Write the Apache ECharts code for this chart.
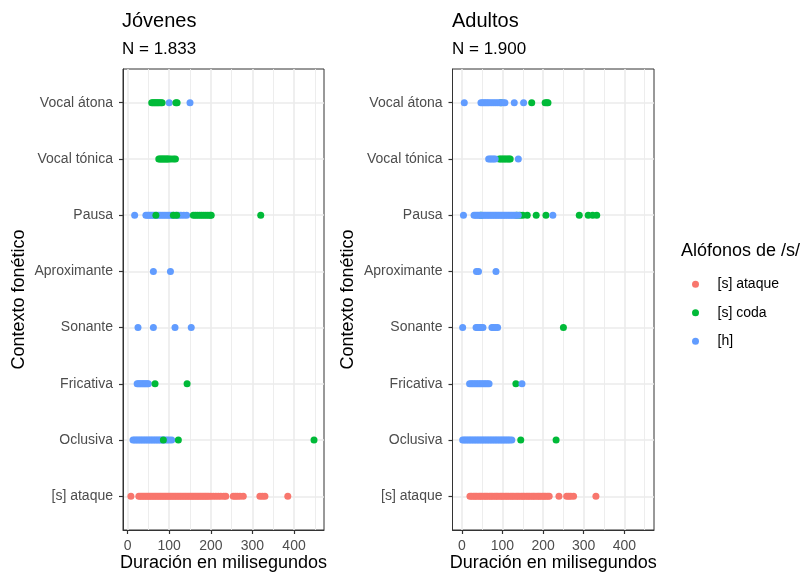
<!DOCTYPE html>
<html>
<head>
<meta charset="utf-8">
<script src="https://cdn.jsdelivr.net/npm/echarts@6/dist/echarts.min.js"></script>
<style>
html,body{margin:0;padding:0;background:#fff;}
#chart{width:800px;height:573px;}
</style>
</head>
<body>
<div id="chart"></div>
<script>
// Categories, bottom (index 0) to top (index 7)
const categories = ['[s] ataque','Oclusiva','Fricativa','Sonante','Aproximante','Pausa','Vocal tónica','Vocal átona'];
const seriesNames = ['[s] ataque','[s] coda','[h]'];
const xTickValues = [0,100,200,300,400];
const xMinorValues = [50,150,250,350,450];
const panelTitles = ['Jóvenes','Adultos'];
const panelSubtitles = ['N = 1.833','N = 1.900'];

// Jóvenes: durations (ms) per context, index = category index
const jovAtaque = [8,27,31,35,39,43,47,51,55,59,63,67,71,75,79,83,87,91,95,99,103,107,111,115,119,123,127,131,135,139,143,147,151,155,159,163,167,171,175,179,183,187,191,195,200,206,212,218,224,231,236,254,259,264,270,278,318,324,330,385];
const jovCoda = [
  [],
  [86,122,448],
  [66,143],
  [],
  [],
  [68,110,118,158,163,168,173,178,183,188,193,198,201,320],
  [75,78,81,84,87,90,93,96,99,104,110,115],
  [58,61,64,67,70,73,76,80,83,116,119]
];
const jovH = [
  [],
  [13,17,21,25,29,33,37,41,45,49,53,57,61,65,69,73,77,81,85,90,95,100,106],
  [23,26,29,32,35,38,41,44,47,50],
  [25,62,114,153],
  [62,103],
  [17,44,48,52,56,60,64,70,75,80,85,90,95,100,105,110,116,122,128,135,142],
  [],
  [100,150]
];

// Adultos
const adAtaque = [20,24,29,33,37,42,46,50,55,59,63,68,72,76,81,85,89,94,98,102,107,111,115,120,124,128,133,137,141,146,150,154,159,163,167,172,176,180,185,189,193,198,202,206,211,215,239,258,263,268,275,330];
const adCoda = [
  [],
  [145,232],
  [133],
  [250],
  [],
  [47,135,143,150,161,183,207,289,311,322,332],
  [92,96,100,104,108,112,116,119],
  [96,172,205,209,212]
];
const adH = [
  [],
  [2,6,10,14,18,22,26,30,34,38,42,46,50,54,58,62,66,70,74,78,82,86,90,94,98,102,106,110,114,118,123],
  [19,23,27,31,35,39,43,47,51,55,59,63,67,148],
  [2,35,39,43,47,52,74,78,83,88],
  [36,41,84],
  [4,30,34,38,42,46,50,54,58,62,66,70,74,78,82,86,90,94,98,102,106,110,114,118,122,126,130,134,139,224],
  [66,70,74,78,82,139],
  [6,47,51,55,59,63,67,72,77,82,87,92,97,102,106,129,152]
];

const colors = {'[s] ataque':'#F8766D','[s] coda':'#00BA38','[h]':'#619CFF'};
const FONT = '"Liberation Sans", Arial, sans-serif';

function rowPoints(values, cat){ return values.map(v => [v, cat]); }
function nested(arr){ const out=[]; arr.forEach((vals,i)=>vals.forEach(v=>out.push([v,i]))); return out; }

const grids = [
  {left:123, top:69, width:201, height:461, xmin:-11, xmax:472},
  {left:452.5, top:69, width:201.5, height:461, xmin:-23, xmax:473}
];

const option = {
  animation:false,
  backgroundColor:'#fff',
  textStyle:{fontFamily:FONT},
  title:[
    {text:panelTitles[0], left:122, top:11, textStyle:{fontSize:20, fontWeight:'normal', color:'#000', fontFamily:FONT}, padding:0},
    {text:panelSubtitles[0], left:122, top:40.5, textStyle:{fontSize:17, fontWeight:'normal', color:'#000', fontFamily:FONT}, padding:0},
    {text:panelTitles[1], left:452, top:11, textStyle:{fontSize:20, fontWeight:'normal', color:'#000', fontFamily:FONT}, padding:0},
    {text:panelSubtitles[1], left:452, top:40.5, textStyle:{fontSize:17, fontWeight:'normal', color:'#000', fontFamily:FONT}, padding:0},
    {text:'Alófonos de /s/', left:681, top:242.5, textStyle:{fontSize:18, fontWeight:'normal', color:'#000', fontFamily:FONT}, padding:0}
  ],
  legend:{
    data:seriesNames,
    orient:'vertical',
    left:692, top:276.3,
    padding:0,
    icon:'circle',
    itemWidth:34, itemHeight:7, itemGap:12.5,
    textStyle:{fontSize:14, color:'#000', lineHeight:16, fontFamily:FONT},
    selectedMode:false
  },
  grid: grids.map(g => ({left:g.left, top:g.top, width:g.width, height:g.height, show:true, borderColor:'#333', borderWidth:1, backgroundColor:'transparent', outerBoundsMode:'none', containLabel:false})),
  xAxis: [],
  yAxis: [],
  series: []
};

grids.forEach((g, gi) => {
  option.xAxis.push({
    type:'value', gridIndex:gi, min:g.xmin, max:g.xmax, position:'bottom',
    name:'Duración en milisegundos', nameLocation:'middle', nameGap:24, nameMoveOverlap:false,
    nameTextStyle:{fontSize:18, color:'#000', fontFamily:FONT},
    axisLine:{show:true, onZero:false, lineStyle:{color:'#333', width:1}},
    axisTick:{show:true, inside:false, length:4, lineStyle:{color:'#333', width:1.2}, customValues:xTickValues},
    axisLabel:{show:true, fontSize:14, color:'#4D4D4D', margin:9, customValues:xTickValues, fontFamily:FONT},
    splitLine:{show:true, lineStyle:{color:'#EBEBEB', width:1.6}, customValues:xTickValues},
    z:1
  });
  option.xAxis.push({
    type:'value', gridIndex:gi, min:g.xmin, max:g.xmax, position:'bottom',
    axisLine:{show:false, onZero:false},
    axisTick:{show:false, customValues:xMinorValues},
    axisLabel:{show:false, customValues:xMinorValues},
    splitLine:{show:true, lineStyle:{color:'#EBEBEB', width:0.9}, customValues:xMinorValues},
    z:0
  });
  option.yAxis.push({
    type:'value', gridIndex:gi, min:-0.6, max:7.6, position:'left',
    name:'Contexto fonético', nameLocation:'middle', nameGap:95, nameRotate:90, nameMoveOverlap:false,
    nameTextStyle:{fontSize:18, color:'#000', fontFamily:FONT},
    axisLine:{show:true, onZero:false, lineStyle:{color:'#333', width:1}},
    axisTick:{show:true, inside:false, length:4, lineStyle:{color:'#333', width:1.2}, customValues:[0,1,2,3,4,5,6,7]},
    axisLabel:{show:true, fontSize:14, color:'#4D4D4D', margin:10, customValues:[0,1,2,3,4,5,6,7], fontFamily:FONT,
      formatter:(v)=>categories[Math.round(v)] || ''},
    splitLine:{show:true, lineStyle:{color:'#EBEBEB', width:1.6}, customValues:[0,1,2,3,4,5,6,7]}
  });
});

function scatter(name, data, gi){
  return {
    name, type:'scatter', xAxisIndex:gi*2, yAxisIndex:gi, data,
    symbol:'circle', symbolSize:7,
    itemStyle:{color:colors[name], opacity:1},
    emphasis:{disabled:true}, silent:true
  };
}

// Jóvenes: [h] drawn below [s] coda
option.series.push(scatter('[s] ataque', rowPoints(jovAtaque, 0), 0));
option.series.push(scatter('[h]', nested(jovH), 0));
option.series.push(scatter('[s] coda', nested(jovCoda), 0));
// Adultos: [s] coda drawn below [h]
option.series.push(scatter('[s] ataque', rowPoints(adAtaque, 0), 1));
option.series.push(scatter('[s] coda', nested(adCoda), 1));
option.series.push(scatter('[h]', nested(adH), 1));

const chart = echarts.init(document.getElementById('chart'), null, {renderer:'canvas'});
chart.setOption(option);
</script>
</body>
</html>
